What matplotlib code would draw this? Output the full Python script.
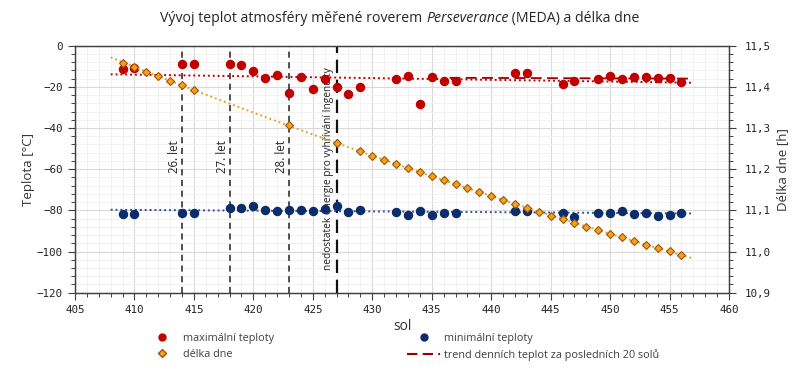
import matplotlib
matplotlib.use("Agg")
import matplotlib.pyplot as plt
import numpy as np
from matplotlib.ticker import MultipleLocator, FuncFormatter
from matplotlib.lines import Line2D

# ---------------- data ----------------
sol_max = [409, 410, 414, 415, 418, 419, 420, 421, 422, 423, 424, 425, 426, 427, 428, 429,
           432, 433, 434, 435, 436, 437, 442, 443, 446, 447, 449, 450, 451, 452, 453, 454, 455, 456]
t_max = [-11.3, -10.7, -8.9, -8.9, -9.1, -9.4, -12.3, -15.7, -14.2, -23.1, -15.4, -21.0, -16.2, -20.2, -23.6, -20.3,
         -16.2, -14.6, -28.3, -15.0, -17.0, -17.0, -13.4, -13.4, -18.4, -17.1, -16.0, -14.9, -16.0, -15.0, -15.2, -15.9, -15.7, -17.6]

sol_min = [409, 410, 414, 415, 418, 419, 420, 421, 422, 423, 424, 425, 426, 427, 428, 429,
           432, 433, 434, 435, 436, 437, 442, 443, 446, 447, 449, 450, 451, 452, 453, 454, 455, 456]
t_min = [-81.9, -81.9, -81.1, -81.1, -78.7, -78.7, -77.7, -79.7, -80.5, -80.0, -79.8, -80.2, -79.5, -77.7, -81.0, -79.8,
         -81.0, -82.3, -80.2, -82.3, -81.5, -81.5, -80.5, -80.2, -81.3, -83.1, -81.3, -81.1, -80.3, -81.6, -81.5, -82.6, -82.1, -81.5]

sol_day = [409, 410, 411, 412, 413, 414, 415, 423, 427, 429, 430, 431, 432, 433, 434, 435, 436, 437,
           438, 439, 440, 441, 442, 443, 444, 445, 446, 447, 448, 449, 450, 451, 452, 453, 454, 455, 456]
day_len = [11.459, 11.4475, 11.437, 11.426, 11.415, 11.4045, 11.393, 11.3066, 11.2644, 11.2442, 11.2328, 11.2231,
           11.2134, 11.203, 11.1925, 11.1828, 11.173, 11.1633, 11.1536, 11.1439, 11.135, 11.1252, 11.1155, 11.1065,
           11.0968, 11.0871, 11.0783, 11.0693, 11.0604, 11.0516, 11.0426, 11.0346, 11.0256, 11.0166, 11.0094, 11.0013, 10.9924]

trend_sol = [408, 457]
trend_max = [-13.9, -18.0]
trend_min = [-79.7, -81.5]
trend20_sol = [436.5, 457]
trend20_t = [-15.6, -16.0]

events_sol = [414, 418, 423]
events_lab = ["26. let", "27. let", "28. let"]
ingenuity_sol = 427
ingenuity_lab = "nedostatek energie pro vyhřívání Ingenuity"

title_a = "Vývoj teplot atmosféry měřené roverem "
title_b = "Perseverance"
title_c = " (MEDA) a délka dne"

# ---------------- style ----------------
plt.rcParams['font.family'] = ['Open Sans', 'DejaVu Sans']
mono = ['DejaVu Sans Mono']

RED = '#C00000'
BLUE = '#0B2D6B'
ORANGE = '#F5A21B'
ORANGE_EDGE = '#A0520A'
ORANGE_LINE = '#E3A51A'
DRED = '#9E0000'
TXT = '#333333'

fig = plt.figure(figsize=(7.98, 3.73), dpi=100)
ax = fig.add_axes([75/798, 1-292.7/373, (729-75)/798, (292.7-45.7)/373])
ax2 = ax.twinx()

ax.set_xlim(405, 460)
ax.set_ylim(-120, 0)
ax2.set_ylim(10.9, 11.5)

ax.xaxis.set_major_locator(MultipleLocator(5))
ax.xaxis.set_minor_locator(MultipleLocator(1))
ax.yaxis.set_major_locator(MultipleLocator(20))
ax.yaxis.set_minor_locator(MultipleLocator(4))
ax2.yaxis.set_major_locator(MultipleLocator(0.1))
ax2.yaxis.set_minor_locator(MultipleLocator(0.02))
ax2.yaxis.set_major_formatter(FuncFormatter(lambda v, p: f"{v:.1f}".replace('.', ',')))

ax.grid(which='major', color='#D9D9D9', lw=0.8)
ax.grid(which='minor', color='#F0F0F0', lw=0.6)
ax.set_axisbelow(True)

for a in (ax, ax2):
    for s in a.spines.values():
        s.set_color('#404040')
        s.set_linewidth(0.9)
    a.tick_params(which='major', length=5, width=0.8, color='#404040', labelsize=7.8, direction='out',
                  labelcolor='#222222')
    a.tick_params(which='minor', length=3, width=0.7, color='#404040', direction='out')
    for lab in a.get_xticklabels() + a.get_yticklabels():
        lab.set_family(mono)
ax.tick_params(axis='x', pad=4)
ax.tick_params(axis='y', pad=4)
ax2.tick_params(axis='y', pad=6)

ax.set_xlabel("sol", fontsize=10, labelpad=3, color=TXT)
ax.set_ylabel("Teplota [°C]", fontsize=9.5, labelpad=1, color=TXT)
ax2.set_ylabel("Délka dne [h]", fontsize=9.5, labelpad=4, color=TXT)

# vertical event lines
for s, lab in zip(events_sol, events_lab):
    ax.axvline(s, color='#222222', lw=1.1, ls=(0, (4, 3)), zorder=2)
    ax.text(s - 0.6, -54, lab, rotation=90, ha='center', va='center', fontsize=8.3, color='#222222', zorder=3)
ax.axvline(ingenuity_sol, color='#111111', lw=1.6, ls=(0, (6, 3)), zorder=2)
ax.text(ingenuity_sol - 0.65, -59.5, ingenuity_lab, rotation=90, ha='center', va='center', fontsize=7.3,
        color='#222222', zorder=3)

# trend lines
ax.plot(trend_sol, trend_max, color=RED, lw=1.4, ls=(0, (1, 1.5)), zorder=3)
ax.plot(trend_sol, trend_min, color='#2F4F9A', lw=1.4, ls=(0, (1, 1.5)), zorder=3)
ax.plot(trend20_sol, trend20_t, color=DRED, lw=1.3, ls=(0, (6, 3)), zorder=3)
coef = np.polyfit(sol_day, day_len, 2)
xs = np.linspace(trend_sol[0], trend_sol[1], 100)
ax2.plot(xs, np.polyval(coef, xs), color=ORANGE_LINE, lw=1.4, ls=(0, (1, 1.5)), zorder=3)

# points
ax.plot(sol_max, t_max, 'o', color=RED, ms=5.8, mec=RED, zorder=4)
ax.plot(sol_min, t_min, 'o', color=BLUE, ms=5.8, mec=BLUE, zorder=4)
ax2.plot(sol_day, day_len, 'D', color=ORANGE, ms=4.5, mec=ORANGE_EDGE, mew=0.8, zorder=4)

# title (with italic part)
fig.canvas.draw()
renderer = fig.canvas.get_renderer()
parts = [(title_a, 'normal'), (title_b, 'italic'), (title_c, 'normal')]
widths = []
objs = []
for txt, st in parts:
    o = fig.text(0, 0, txt, fontsize=10.2, style=st, color='#262626')
    w = o.get_window_extent(renderer=renderer).width
    widths.append(w)
    objs.append(o)
total = sum(widths)
x0 = 400 - total / 2
for o, w in zip(objs, widths):
    o.set_position((x0 / 798, 1 - 18.5 / 373))
    o.set_va('center')
    x0 += w

# legend
h_max = Line2D([], [], ls='none', marker='o', color=RED, ms=5)
h_min = Line2D([], [], ls='none', marker='o', color=BLUE, ms=5)
h_day = Line2D([], [], ls='none', marker='D', color=ORANGE, mec=ORANGE_EDGE, ms=4)
h_tr = Line2D([], [], color=DRED, lw=1.5, ls=(0, (5, 2.5)))
leg = fig.legend([h_max, h_day, h_min, h_tr],
                 ["maximální teploty", "délka dne", "minimální teploty", "trend denních teplot za posledních 20 solů"],
                 ncol=2, loc='center', bbox_to_anchor=(0.5, 0.5), frameon=False, fontsize=7.8,
                 columnspacing=12.3, handlelength=3.0, handletextpad=0.4, labelspacing=0.45)
for t in leg.get_texts():
    t.set_color('#404040')

# position legend so first label text starts at x=183 and rows centre ~346
fig.canvas.draw()
bb = leg.get_window_extent(renderer=renderer)
tb = leg.get_texts()[0].get_window_extent(renderer=renderer)
dx = 183 - tb.x0
cx = (bb.x0 + bb.x1) / 2 + dx
leg.set_bbox_to_anchor((cx / 798, 1 - 347 / 373), transform=fig.transFigure)

fig.savefig("out.png", dpi=100)
